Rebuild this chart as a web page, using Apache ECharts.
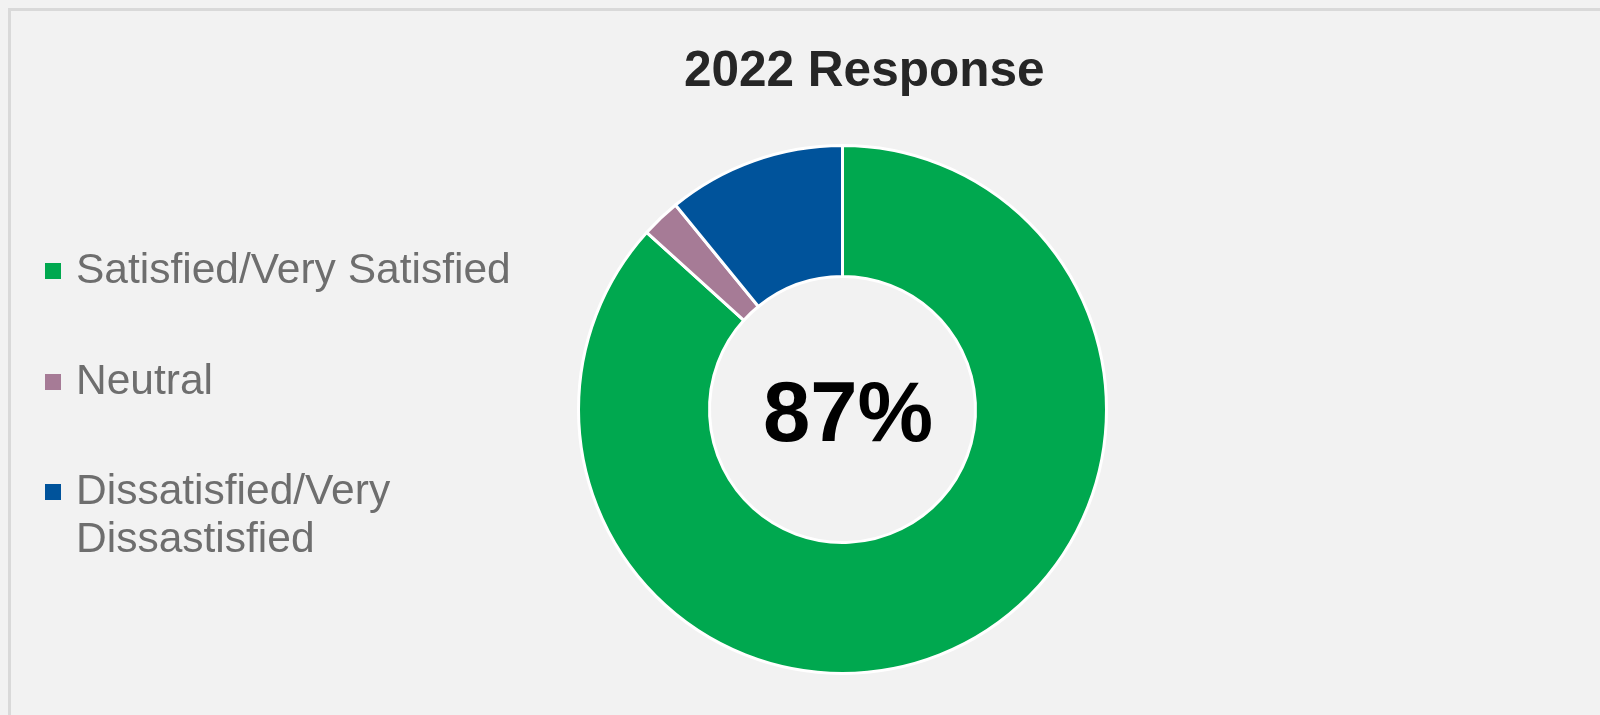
<!DOCTYPE html>
<html><head><meta charset="utf-8">
<script src="https://cdn.jsdelivr.net/npm/echarts@6/dist/echarts.min.js"></script>
<style>html,body{margin:0;padding:0;background:#f2f2f2}#c{width:1600px;height:715px}</style>
</head><body><div id="c"></div>
<script>
const chartTitle = '2022 Response';
const categories = ['Satisfied/Very Satisfied', 'Neutral', 'Dissatisfied/Very Dissastisfied'];
const values = [86.7, 2.4, 10.9];
const centerLabel = '87%';

const colors = ['#00a84f', '#a67b96', '#00539b'];
const font = '"Liberation Sans", Arial, sans-serif';
const legendTops = [247, 358, 420];
const pieCenter = [842.5, 409.5];

function legendText(name, i) {
  const lines = i === 2 ? ['', ...name.split(' ')] : [name];
  return lines.map(l => '{g| }' + l).join('\n');
}

const chart = echarts.init(document.getElementById('c'), null, {renderer: 'canvas'});
chart.setOption({
  backgroundColor: '#f2f2f2',
  animation: false,
  graphic: [{
    type: 'rect', silent: true,
    shape: {x: 9.5, y: 9.5, width: 1800, height: 900},
    style: {fill: 'none', stroke: '#d9d9d9', lineWidth: 3}
  }, {
    type: 'text', silent: true, x: pieCenter[0] + 5.5, y: pieCenter[1] + 8,
    style: {text: centerLabel, align: 'center', verticalAlign: 'middle',
      font: 'bold 85px ' + font, fill: '#000000'}
  }],
  title: {
    text: chartTitle, left: 684, top: 47, padding: 0,
    textStyle: {fontFamily: font, fontSize: 49.5, fontWeight: 'bold', color: '#262626'}
  },
  legend: categories.map((name, i) => ({
    data: [name], orient: 'vertical', left: 45, top: legendTops[i], padding: 0,
    itemWidth: 16, itemHeight: 16, icon: 'rect', selectedMode: false,
    itemStyle: {borderWidth: 0},
    formatter: n => legendText(n, i),
    textStyle: {fontFamily: font, fontSize: 42.5, lineHeight: 48, color: '#6e6e6e',
      rich: {g: {width: 10, fontSize: 42.5, lineHeight: 48, fontFamily: font}}}
  })),
  series: [{
    type: 'pie', center: pieCenter, radius: [133, 264],
    startAngle: 90, clockwise: true, avoidLabelOverlap: false,
    emphasis: {disabled: true}, silent: true,
    itemStyle: {borderColor: '#ffffff', borderWidth: 3},
    labelLine: {show: false},
    label: {show: false},
    data: categories.map((name, i) => ({
      name, value: values[i], itemStyle: {color: colors[i]}
    }))
  }]
});
</script></body></html>
